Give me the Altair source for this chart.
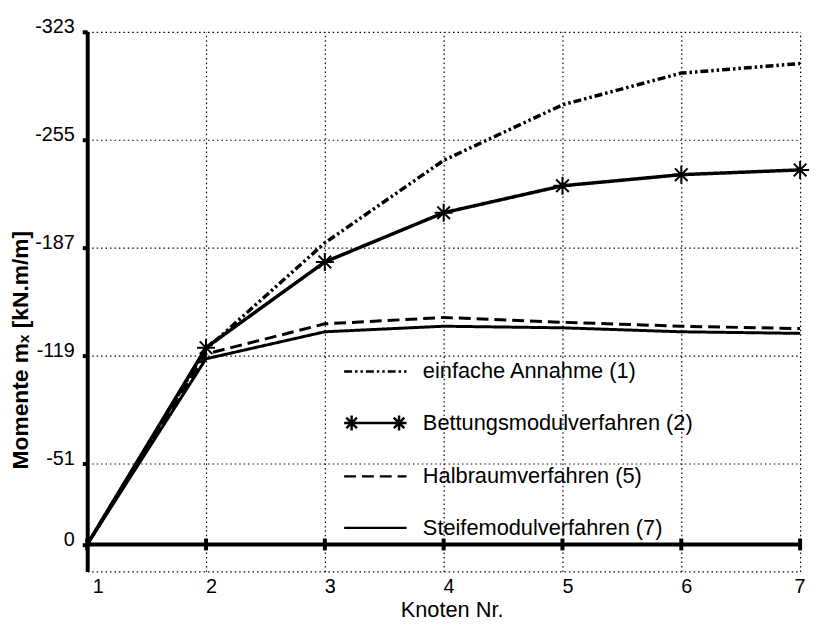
import altair as alt
import pandas as pd

# ---- data ----
knoten = [1, 2, 3, 4, 5, 6, 7]
series_names = ["einfache Annahme (1)", "Bettungsmodulverfahren (2)",
                "Halbraumverfahren (5)", "Steifemodulverfahren (7)"]
einfache = [0, -123, -190, -242, -277, -297, -303]
bettung = [0, -124, -178, -209, -226, -233, -236]
halbraum = [0, -120, -139, -143, -140, -137.5, -136]
steife = [0, -117, -134, -137.5, -136.5, -134, -133]
y_ticks = [17, 0, -51, -119, -187, -255, -323]
x_ticks = [1, 2, 3, 4, 5, 6, 7]

rows = []
for name, vals in zip(series_names, [einfache, bettung, halbraum, steife]):
    for k, v in zip(knoten, vals):
        rows.append({"Knoten": k, "Moment": v, "series": name})
df = pd.DataFrame(rows)
df_b = df[(df["series"] == series_names[1]) & (df["Knoten"] > 1)]

FONT = "Liberation Sans"

dashes = [[8, 3, 2.5, 3, 2.5, 3], [1, 0], [12, 6], [1, 0]]
widths = [3.5, 3.5, 3, 3]
dash_scale = alt.Scale(domain=series_names, range=dashes)

star = "M-1,0L1,0M0,-1L0,1M-0.7,-0.7L0.7,0.7M-0.7,0.7L0.7,-0.7"


def asterisk(cx, r):
    a = r * 0.707
    return (f"M{cx-r},0L{cx+r},0M{cx},{-r}L{cx},{r}"
            f"M{cx-a},{-a}L{cx+a},{a}M{cx-a},{a}L{cx+a},{-a}")


line_path = "M-1,0L1,0"
star_line_path = line_path + asterisk(-0.76, 0.24) + asterisk(0.76, 0.24)
shape_scale = alt.Scale(domain=series_names,
                        range=[line_path, star_line_path, line_path, line_path])

x_enc = alt.X("Knoten:Q",
              scale=alt.Scale(domain=[1, 7], nice=False, zero=False),
              axis=alt.Axis(values=x_ticks, grid=True, gridDash=[1.5, 3],
                            gridColor="black", gridWidth=1.2, gridOpacity=1,
                            domain=False, ticks=False, format="d",
                            labelFontSize=20, labelFont=FONT, labelColor="black",
                            labelPadding=5, labelOffset=5,
                            title="Knoten Nr.", titleFontSize=22, titleFont=FONT,
                            titleFontWeight="normal", titleColor="black",
                            titleX=368, titleY=46, titleBaseline="alphabetic",
                            titleAlign="center"))
y_enc = alt.Y("Moment:Q",
              scale=alt.Scale(domain=[-323, 17], reverse=True, nice=False, zero=False),
              axis=alt.Axis(values=y_ticks, grid=True, gridDash=[1.5, 3],
                            gridColor="black", gridWidth=1.2, gridOpacity=1,
                            domain=True, domainColor="black", domainWidth=4,
                            ticks=True, tickSize=5, tickWidth=4, tickColor="black",
                            tickOpacity={"condition": {"test": "datum.value === 17", "value": 0}, "value": 1},
                            labelExpr="datum.value === 17 ? '' : '' + datum.value",
                            labelFontSize=20, labelFont=FONT, labelColor="black",
                            labelPadding=8, labelBaseline="alphabetic", labelOffset=1,
                            title="Momente mₓ [kN.m/m]", titleFontSize=23, titleFont=FONT,
                            titleFontWeight="bold", titleColor="black",
                            titleAngle=270, titleX=-67, titleY=321,
                            titleAlign="center", titleBaseline="middle"))

line_layers = []
for name, d, w in zip(series_names, dashes, widths):
    line_layers.append(
        alt.Chart(df).transform_filter(alt.datum.series == name)
        .mark_line(color="black", strokeDash=d, strokeWidth=w)
        .encode(x=x_enc, y=y_enc)
    )

stars = alt.Chart(df_b).mark_point(shape=star, size=330, filled=False,
                                   color="black", strokeWidth=2, opacity=1).encode(
    x=x_enc, y=y_enc)

leg = alt.Legend(orient="none", legendX=258, legendY=310, title=None,
                 symbolSize=3969, symbolStrokeWidth=2.5, symbolStrokeColor="black",
                 symbolFillColor="transparent", symbolOpacity=1,
                 labelFontSize=22, labelFont=FONT, labelColor="black",
                 labelLimit=500, labelOffset=15, rowPadding=8, padding=0)

legend_layer = alt.Chart(df).mark_point(opacity=0, filled=False, color="black").encode(
    x=x_enc, y=y_enc,
    shape=alt.Shape("series:N", scale=shape_scale, legend=leg),
    strokeDash=alt.StrokeDash("series:N", scale=dash_scale, legend=leg),
)

zero_df = pd.DataFrame({"zero": [0]})
zero_line = alt.Chart(zero_df).mark_rule(color="black", strokeWidth=4).encode(
    y=alt.Y("zero:Q"))

tick_df = pd.DataFrame({"Knoten": x_ticks, "zero": [0] * len(x_ticks)})
zero_ticks = alt.Chart(tick_df).mark_tick(orient="vertical", size=12, thickness=4,
                                          color="black", opacity=1).encode(
    x=alt.X("Knoten:Q"), y=alt.Y("zero:Q"))

chart = alt.layer(zero_line, zero_ticks, *line_layers, stars, legend_layer).properties(
    width=720, height=545,
    padding={"left": 80, "top": 21, "right": 10, "bottom": 47},
    autosize=alt.AutoSizeParams(type="none"),
).configure(font=FONT).configure_view(stroke=None)

chart.save("out.html", embed_options={"renderer": "svg", "actions": False})
